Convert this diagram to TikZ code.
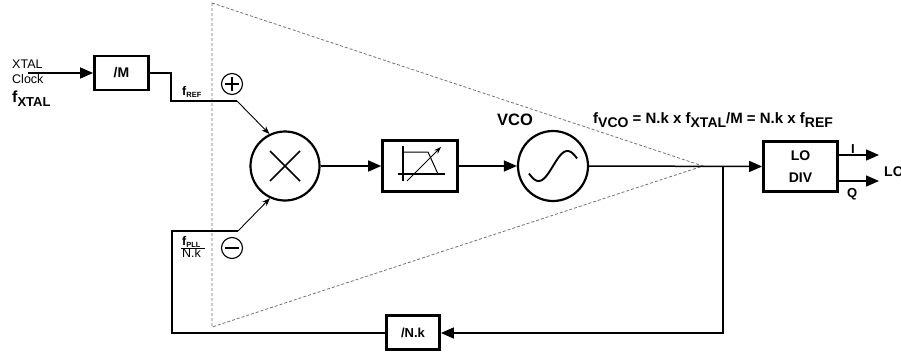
\documentclass[tikz,border=0pt]{standalone}
\usepackage{fontspec}
\setmainfont{Liberation Sans}
\usetikzlibrary{arrows.meta}
\newcommand\fsz[1]{\fontsize{#1}{#1}\selectfont}
\newcommand\lsub[3]{\raisebox{-#1}{\fsz{#2}#3}}
\begin{document}
\begin{tikzpicture}[x=1pt,y=-1pt,
  wire/.style={line width=1.5pt},
  sig/.style={wire,-{Triangle[length=13pt,width=11pt]}},
  diag/.style={line width=0.9pt,-{Stealth[length=8pt,width=6pt,inset=2.5pt]}},
  blk/.style={draw,line width=2.8pt,inner sep=0pt},
  ring/.style={draw,circle,line width=2.2pt,inner sep=0pt},
  pm/.style={draw,circle,line width=1.1pt,inner sep=0pt,minimum size=21pt},
  lbl/.style={inner sep=0pt,anchor=base west},
  tri/.style={draw=black!55,dashed,line width=0.8pt,dash pattern=on 3pt off 2pt}
]
\useasboundingbox (0,0) rectangle (901,353);
\clip (0,0) rectangle (901,353);

% dashed triangle
\draw[tri] (212,3) -- (703,166) -- (212,327) -- cycle;

% blocks
\node[blk,minimum width=54pt,minimum height=34pt] (M) at (121.5,73) {\fsz{14}\bfseries /M};
\node[blk,line width=2.6pt,minimum width=75pt,minimum height=51pt] (filt) at (420,166) {};
\node[ring,minimum size=69pt] (mult) at (285,166) {};
\node[ring,minimum size=70pt] (vco) at (553,166) {};
\node[blk,minimum width=74pt,minimum height=50pt,align=center,
      font={\fontsize{14}{22}\selectfont\bfseries}] (lodiv) at (800.5,166.5) {LO\\DIV};
\node[blk,minimum width=53pt,minimum height=34pt] (nk) at (413,332.5) {\fsz{13}\bfseries /N.k};
\node[pm] (plus) at (232,84) {};
\node[pm] (minus) at (232,248) {};

% plus / minus / multiply glyphs
\draw[line width=1.1pt] ([xshift=-7pt]plus.center) -- ([xshift=7pt]plus.center)
  ([yshift=-7pt]plus.center) -- ([yshift=7pt]plus.center);
\draw[line width=1.1pt] ([xshift=-7pt]minus.center) -- ([xshift=7pt]minus.center);
\draw[line width=1.6pt] ([shift={(-15pt,15pt)}]mult.center) -- ([shift={(15pt,-15pt)}]mult.center)
  ([shift={(-15pt,-15pt)}]mult.center) -- ([shift={(15pt,15pt)}]mult.center);

% filter symbol
\begin{scope}[shift={(filt.center)}]
  \draw[line width=1.5pt] (-17,-20) -- (-17,15) (-22,8) -- (25,8);
  \draw[line width=1pt] (-17,-14) -- (8,-14) -- (18,8);
  \draw[line width=0.9pt,-{Stealth[length=7pt,width=5pt,inset=2pt]}] (-13,15) -- (21,-19);
\end{scope}

% sine
\begin{scope}[shift={(vco.center)}]
  \draw[line width=1.9pt] plot[domain=-150:150,samples=60,smooth] ({\x*0.16},{-15*sin(\x)});
\end{scope}

% texts
\node[lbl] (xtal) at (12,68) {\fsz{12.5}XTAL};
\node[lbl] (clock) at (12,83) {\fsz{12.5}Clock};
\node[lbl] (fxtal) at (12,102) {\fsz{16}\bfseries f\lsub{4pt}{13}{XTAL}};
\node[lbl] (fref) at (182,95) {\fsz{12.5}\bfseries f\lsub{2pt}{7.5}{REF}};
\node[lbl] (fpll) at (182,245) {\fsz{12.5}\bfseries f\lsub{2pt}{7.5}{PLL}};
\node[lbl] (nkl) at (182,257) {\fsz{12.5}N.k};
\draw[line width=0.8pt] (181,248) -- (205,248);
\node[lbl] (vcol) at (497,125) {\fsz{16.5}\bfseries VCO};
\node[lbl] (form) at (593,123) {\fsz{15}\bfseries f\lsub{4pt}{14}{VCO} = N.k x f\lsub{4pt}{14}{XTAL}/M = N.k x f\lsub{4pt}{14}{REF}};
\node[lbl] (il) at (851,153) {\fsz{13}\bfseries I};
\node[lbl] (ql) at (847,197) {\fsz{13}\bfseries Q};
\node[lbl] (lol) at (884,176) {\fsz{14}\bfseries LO};

% connectors
\coordinate (xin) at (28,73);
\draw[sig] (xin) -- (M.west);
\coordinate (r1) at (171,101);
\coordinate (r2) at (237,101);
\draw[wire] (M.east) -| (r1) -- (r2);
\draw[diag] (r2) -- (mult.116);
\draw[sig] (mult.east) -- (filt.west);
\draw[sig] (filt.east) -- (vco.west);
\draw[sig] (vco.east) -- (lodiv.west);
\coordinate (br) at (723,166);
\coordinate (bb) at (723,333);
\draw[sig] (br) -- (bb) -- (nk.east |- bb);
\coordinate (lb) at (172,333);
\coordinate (lt) at (172,231);
\coordinate (l2) at (238,231);
\draw[wire] (nk.west |- lb) -- (lb) -- (lt) -- (l2);
\draw[diag] (l2) -- (mult.245);
\coordinate (iend) at (879,155);
\coordinate (qend) at (879,181);
\draw[sig] (lodiv.east |- iend) -- (iend);
\draw[sig] (lodiv.east |- qend) -- (qend);
\end{tikzpicture}
\end{document}
